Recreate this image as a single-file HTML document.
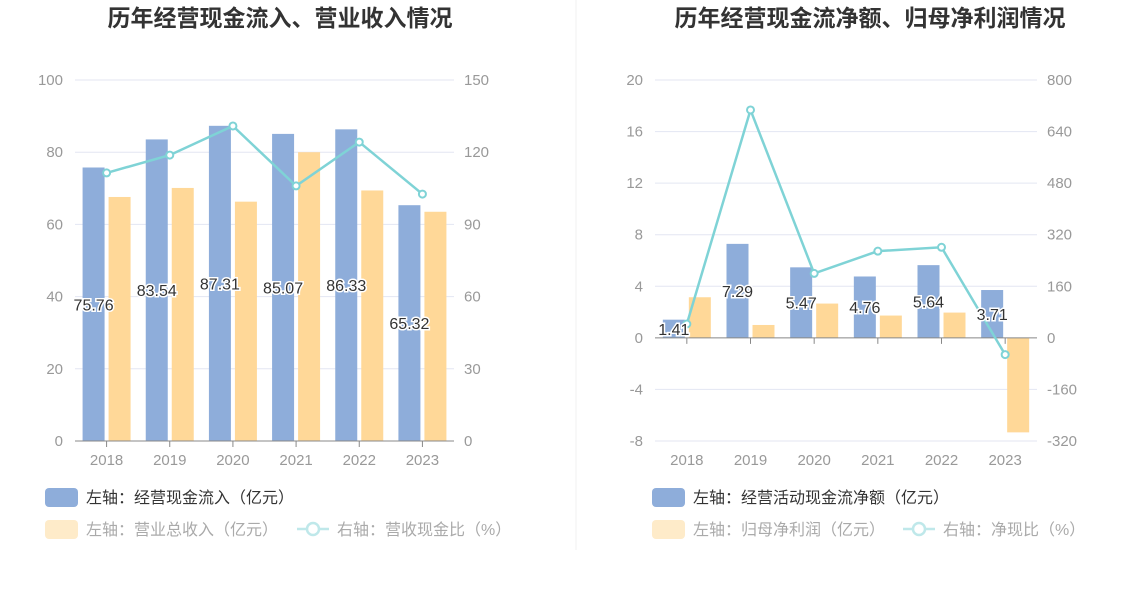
<!DOCTYPE html>
<html><head><meta charset="utf-8"><style>
body{margin:0;background:#fff;width:1148px;height:589px;overflow:hidden;font-family:"Liberation Sans","Noto Sans CJK SC",sans-serif}
svg text{font-family:"Liberation Sans","Noto Sans CJK SC",sans-serif}
</style></head><body>
<svg id="c" width="1148" height="589"></svg>
<script>
const years=["2018","2019","2020","2021","2022","2023"];
const inflow=[75.76,83.54,87.31,85.07,86.33,65.32];
const revenue=[67.6,70.1,66.3,80.0,69.4,63.5];
const revRatio=[111.4,118.8,130.9,106,124.2,102.6];
const leftTicks1=[0,20,40,60,80,100];
const rightTicks1=[0,30,60,90,120,150];
const netCash=[1.41,7.29,5.47,4.76,5.64,3.71];
const netProfit=[3.15,1.0,2.66,1.73,1.96,-7.33];
const cashRatio=[43,707,200,269,281,-52];
const leftTicks2=[-8,-4,0,4,8,12,16,20];
const rightTicks2=[-320,-160,0,160,320,480,640,800];
const svg=document.getElementById('c');
const NS='http://www.w3.org/2000/svg';
function el(tag,attrs,parent){const e=document.createElementNS(NS,tag);for(const k in attrs)e.setAttribute(k,attrs[k]);(parent||svg).appendChild(e);return e;}
function txt(s,attrs){const t=el('text',attrs);t.textContent=s;return t;}
const dv=el('line',{x1:576,y1:0,x2:576,y2:550,stroke:'#f0f0f0'});


function chart(o){
  const g=el('g',{});
  
  
  const x0=o.x0,x1=o.x1,top=80,bot=441;
  const yL=v=>bot-(v-o.lmin)/(o.lmax-o.lmin)*(bot-top);
  const yR=v=>bot-(v-o.rmin)/(o.rmax-o.rmin)*(bot-top);
  const step=(x1-x0)/years.length;
  const cx=i=>x0+step*(i+0.5);
  const t=txt(o.title,{x:o.tx,y:26,'text-anchor':'middle','font-size':23,'font-weight':'bold',fill:'#333'});
  
  
  o.lt.forEach((v,i)=>{
    const y=yL(v);
    if(v!==o.zero){const gl=el('line',{x1:x0,x2:x1,y1:y,y2:y,stroke:'#e3e6f2'},g);
    
    }
    const a=txt(String(v),{x:x0-12,y:y+5,'text-anchor':'end','font-size':15,fill:'#999'});
    
    
    const b=txt(String(o.rt[i]),{x:x1+10,y:y+5,'font-size':15,fill:'#999'});
    
    
  });
  years.forEach((yv,i)=>{
    const c=cx(i);
    const b1=el('rect',{x:c-24,width:22,y:Math.min(yL(o.a[i]),yL(0)),height:Math.abs(yL(o.a[i])-yL(0)),fill:'#8eadda'},g);
    
    
    const b2=el('rect',{x:c+2,width:22,y:Math.min(yL(o.b[i]),yL(0)),height:Math.abs(yL(o.b[i])-yL(0)),fill:'#ffd898'},g);
    
    
    const xl=txt(yv,{x:c,y:465,'text-anchor':'middle','font-size':15,fill:'#999'});
    
    
  });
  const ax=el('line',{x1:x0,x2:x1,y1:yL(0),y2:yL(0),stroke:'#888'},g);
  
  
  years.forEach((yv,i)=>{const tk=el('line',{x1:cx(i),x2:cx(i),y1:yL(0),y2:yL(0)+6,stroke:'#888'},g);
    
    });
  years.forEach((yv,i)=>{
    const c=cx(i)-13,ym=(yL(o.a[i])+yL(0))/2+6;
    const l=txt(o.a[i].toFixed(2),{x:c,y:ym,'text-anchor':'middle','font-size':16,fill:'#333',stroke:'#fff','stroke-width':3,'paint-order':'stroke'});
    
    
  });
  const pts=o.r.map((v,i)=>cx(i)+','+yR(v)).join(' ');
  const pl=el('polyline',{points:pts,fill:'none',stroke:'#7fd3d6','stroke-width':2.5},g);
  
  
  o.r.forEach((v,i)=>{const p=el('circle',{cx:cx(i),cy:yR(v),r:3.5,fill:'#fff',stroke:'#7fd3d6','stroke-width':2},g);
    
    });
  const lx=o.lx;
  const l1=el('rect',{x:lx,y:488,width:33,height:19,rx:4,fill:'#8eadda'});
  
  
  const t1=txt(o.la,{x:lx+41,y:503,'font-size':16,fill:'#333'});
  
  
  const l2=el('rect',{x:lx,y:520,width:33,height:19,rx:4,fill:'#feebc9'});
  
  
  const t2=txt(o.lb,{x:lx+41,y:535,'font-size':16,fill:'#aaa'});
  
  
  const lc=o.lcx;
  const ll=el('line',{x1:lc,x2:lc+32,y1:529,y2:529,stroke:'#bfe8ea','stroke-width':2.5});
  
  
  const lcc=el('circle',{cx:lc+16,cy:529,r:6,fill:'#fff',stroke:'#bfe8ea','stroke-width':2.5});
  
  
  const t3=txt(o.lr,{x:lc+40,y:535,'font-size':16,fill:'#aaa'});
  
  
}
chart({name:'cash-inflow-revenue-chart',title:'历年经营现金流入、营业收入情况',tx:280,lx:45,x0:75,x1:454,lmin:0,lmax:100,rmin:0,rmax:150,lt:leftTicks1,rt:rightTicks1,zero:0,a:inflow,b:revenue,r:revRatio,an:'inflow',bn:'revenue',la:'左轴：经营现金流入（亿元）',lb:'左轴：营业总收入（亿元）',lr:'右轴：营收现金比（%）',lcx:297});
chart({name:'net-cash-profit-chart',title:'历年经营现金流净额、归母净利润情况',tx:870,lx:652,x0:655,x1:1037,lmin:-8,lmax:20,rmin:-320,rmax:800,lt:leftTicks2,rt:rightTicks2,zero:0,a:netCash,b:netProfit,r:cashRatio,an:'netcash',bn:'netprofit',la:'左轴：经营活动现金流净额（亿元）',lb:'左轴：归母净利润（亿元）',lr:'右轴：净现比（%）',lcx:903});
</script>
</body></html>
